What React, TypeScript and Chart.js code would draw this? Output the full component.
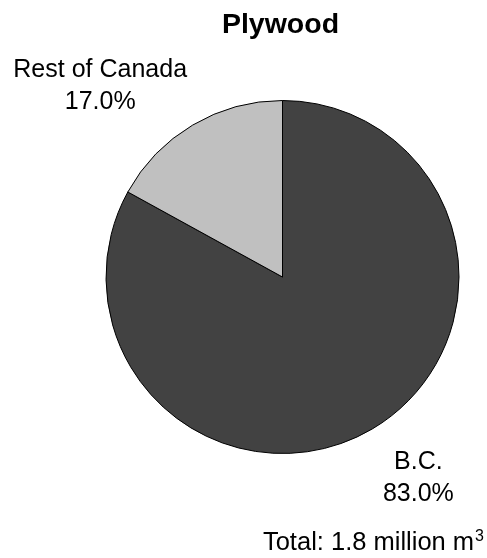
import React, { useEffect, useRef } from "react";
import { Chart, registerables } from "chart.js";

Chart.register(...registerables);

const chartTitle = "Plywood";
const categories = ["B.C.", "Rest of Canada"];
const shares = [83.0, 17.0];
const sliceColors = ["#424242", "#c0c0c0"];
const totalVolume = 1.8;
const totalUnit = "million m";
const totalUnitSup = "3";

const FONT = '"Liberation Sans", Arial, sans-serif';

const labelPlugin = {
  id: "pieLabels",
  afterDraw(chart: any) {
    const ctx = chart.ctx as CanvasRenderingContext2D;
    const meta = chart.getDatasetMeta(0);
    const total = shares.reduce((a, b) => a + b, 0);
    ctx.save();
    ctx.fillStyle = "#000";
    let pieX = 0;
    meta.data.forEach((arc: any, i: number) => {
      const p = arc.getProps(["startAngle", "endAngle", "outerRadius", "x", "y"], true);
      pieX = p.x;
      const mid = (p.startAngle + p.endAngle) / 2;
      const d = p.outerRadius + 13;
      const ax = p.x + Math.cos(mid) * d;
      const ay = p.y + Math.sin(mid) * d;
      const lines = [categories[i], ((shares[i] / total) * 100).toFixed(1) + "%"];
      ctx.font = `25px ${FONT}`;
      const w = Math.max(...lines.map((l) => ctx.measureText(l).width));
      const cx = Math.cos(mid) >= 0 ? ax + 4 + w / 2 : ax + 1 - w / 2;
      const lh = 32;
      const firstBase = Math.sin(mid) >= 0 ? ay + 29 : ay - 5 - lh * (lines.length - 1);
      ctx.textAlign = "center";
      ctx.textBaseline = "alphabetic";
      lines.forEach((l, k) => ctx.fillText(l, cx, firstBase + k * lh));
    });

    // title
    ctx.font = `bold 28.5px ${FONT}`;
    ctx.textAlign = "center";
    ctx.textBaseline = "alphabetic";
    ctx.fillText(chartTitle, pieX - 2, 33);

    // footer
    const main = `Total: ${totalVolume} ${totalUnit}`;
    ctx.font = `25.5px ${FONT}`;
    const w1 = ctx.measureText(main).width;
    ctx.font = `16px ${FONT}`;
    const w2 = ctx.measureText(totalUnitSup).width;
    const left = chart.width - 4 - (w1 + w2);
    ctx.textAlign = "left";
    ctx.font = `25.5px ${FONT}`;
    ctx.fillText(main, left, 550);
    ctx.font = `16px ${FONT}`;
    ctx.fillText(totalUnitSup, left + w1 + 1, 541);
    ctx.restore();
  },
};

export default function App() {
  const ref = useRef<HTMLCanvasElement>(null);
  useEffect(() => {
    if (!ref.current) return;
    const chart = new Chart(ref.current, {
      type: "pie",
      data: {
        labels: categories,
        datasets: [
          {
            data: shares,
            backgroundColor: sliceColors,
            borderColor: "#000000",
            borderWidth: 1,
            hoverOffset: 0,
            offset: 0,
          },
        ],
      },
      options: {
        responsive: false,
        animation: false,
        layout: { padding: { top: 100, bottom: 104, left: 105.5, right: 27.5 } },
        plugins: {
          legend: { display: false },
          tooltip: { enabled: false },
          title: { display: false },
        },
        events: [],
      },
      plugins: [labelPlugin],
    });
    return () => chart.destroy();
  }, []);
  return (
    <div style={{ position: "fixed", left: 0, top: 0, width: 487, height: 558, background: "#fff" }}>
      <canvas ref={ref} width={487} height={558} style={{ display: "block" }} />
    </div>
  );
}
